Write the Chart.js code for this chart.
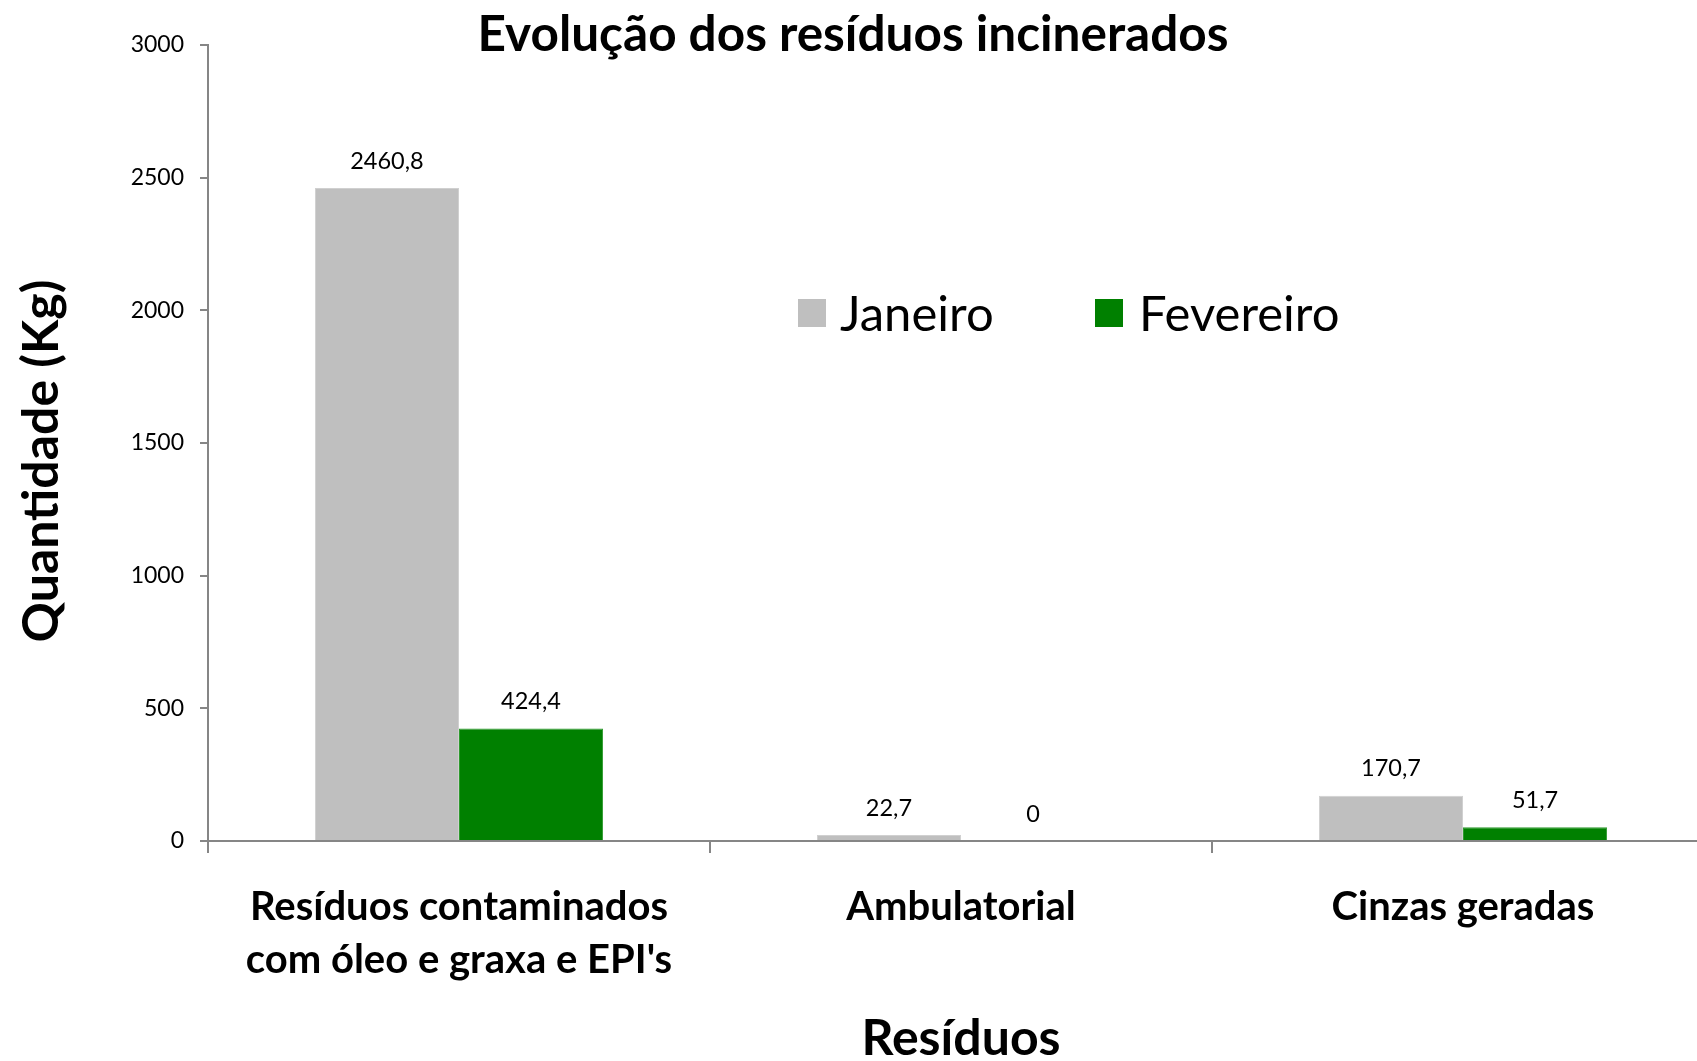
<!DOCTYPE html>
<html>
<head>
<meta charset="utf-8">
<script src="https://cdn.jsdelivr.net/npm/chart.js@4.4.1/dist/chart.umd.min.js"></script>
<style>
  html, body { margin: 0; padding: 0; background: #fff; overflow: hidden; }
  #wrap { width: 1697px; height: 1061px; overflow: hidden; position: relative; }
  canvas { display: block; }
</style>
</head>
<body>
<div id="wrap"><canvas id="c" width="1760" height="1061"></canvas></div>
<script>
const chartTitle = 'Evolução dos resíduos incinerados';
const yAxisTitle = 'Quantidade (Kg)';
const xAxisTitle = 'Resíduos';
const categories = [
  ['Resíduos contaminados', "com óleo e graxa e EPI's"],
  ['Ambulatorial'],
  ['Cinzas geradas']
];
const seriesNames = ['Janeiro', 'Fevereiro'];
const janeiro = [2460.8, 22.7, 170.7];
const fevereiro = [424.4, 0, 51.7];
const yTicks = [0, 500, 1000, 1500, 2000, 2500, 3000];

const FONT = 'Lato, "Open Sans", sans-serif';
const AXIS_COLOR = '#868686';

const fmt = v => String(v).replace('.', ',');

const customDraw = {
  id: 'customDraw',
  afterDatasetsDraw(chart) {
    const ctx = chart.ctx;
    ctx.save();
    // data labels
    ctx.font = '23.5px ' + FONT;
    ctx.fillStyle = '#000';
    ctx.textAlign = 'center';
    ctx.textBaseline = 'middle';
    chart.data.datasets.forEach((ds, di) => {
      const meta = chart.getDatasetMeta(di);
      meta.data.forEach((bar, i) => {
        ctx.fillText(fmt(ds.data[i]), bar.x, bar.y - 27);
      });
    });
    // legend
    const legendPos = [{box: 798, text: 840}, {box: 1095, text: 1139}];
    const ly = 313;
    ctx.font = '49px ' + FONT;
    ctx.textAlign = 'left';
    chart.data.datasets.forEach((ds, di) => {
      ctx.fillStyle = ds.backgroundColor;
      ctx.fillRect(legendPos[di].box, ly - 14, 28, 28);
      ctx.fillStyle = '#000';
      ctx.fillText(ds.label, legendPos[di].text, ly + 2);
    });
    // chart title
    ctx.font = 'bold 49.5px ' + FONT;
    ctx.textAlign = 'center';
    ctx.fillText(chartTitle, 853, 35);
    // x axis title
    const area = chart.chartArea;
    ctx.font = 'bold 50px ' + FONT;
    ctx.fillText(xAxisTitle, (area.left + area.right) / 2, 1039);
    // y axis title
    ctx.translate(42, 461);
    ctx.rotate(-Math.PI / 2);
    ctx.fillText(yAxisTitle, 0, 0);
    ctx.restore();
  }
};

new Chart(document.getElementById('c'), {
  type: 'bar',
  data: {
    labels: categories,
    datasets: [
      { label: seriesNames[0], data: janeiro, backgroundColor: '#BFBFBF', borderColor: '#D0D0D0', borderWidth: 1 },
      { label: seriesNames[1], data: fevereiro, backgroundColor: '#008000', borderColor: '#2E9A2E', borderWidth: 1 }
    ]
  },
  options: {
    responsive: false,
    animation: false,
    devicePixelRatio: 1,
    layout: { padding: { left: 0, right: 46, top: 45, bottom: 0 } },
    plugins: {
      legend: { display: false },
      title: { display: false },
      tooltip: { enabled: false }
    },
    datasets: { bar: { categoryPercentage: 0.574, barPercentage: 1.0 } },
    scales: {
      x: {
        grid: { display: true, drawOnChartArea: false, drawTicks: true, tickLength: 12, color: AXIS_COLOR, lineWidth: 2, offset: true },
        border: { display: true, color: AXIS_COLOR, width: 2 },
        ticks: { font: { family: FONT, size: 40, weight: 'bold', lineHeight: 1.33 }, color: '#000', padding: 27, maxRotation: 0, autoSkip: false },
        afterFit(s) { s.height = 220; }
      },
      y: {
        min: 0, max: 3000,
        afterBuildTicks(s) { s.ticks = yTicks.map(v => ({ value: v })); },
        grid: { display: true, drawOnChartArea: false, drawTicks: true, tickLength: 8, color: AXIS_COLOR, lineWidth: 2 },
        border: { display: true, color: AXIS_COLOR, width: 2 },
        ticks: { font: { family: FONT, size: 23 }, color: '#000', padding: 16, callback: v => String(v) },
        afterFit(s) { s.width = 208; }
      }
    }
  },
  plugins: [customDraw]
});
</script>
</body>
</html>
